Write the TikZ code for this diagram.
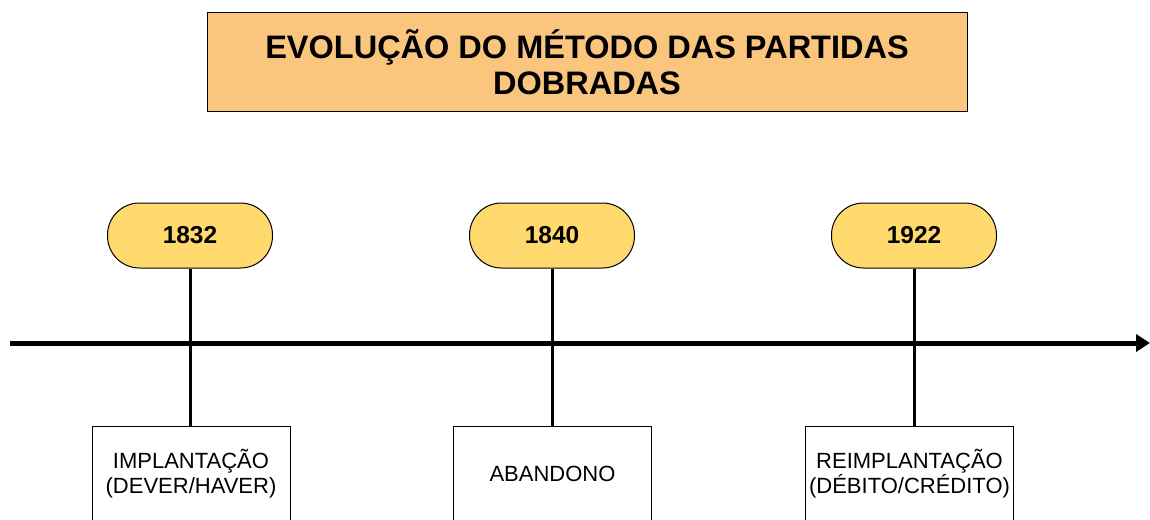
\documentclass[tikz,border=0pt]{standalone}
\usepackage{fontspec}
\setmainfont{Liberation Sans}
\usepackage{xcolor}
\usetikzlibrary{arrows.meta,positioning}
\definecolor{headorange}{RGB}{250,198,126}
\definecolor{yearyellow}{RGB}{255,217,110}

\begin{document}
\begin{tikzpicture}[x=1pt, y=-1pt,
  head/.style ={draw, fill=headorange, align=center, minimum width=760pt,
                minimum height=99pt, font=\fontsize{32.5}{36}\selectfont\bfseries},
  year/.style ={draw, fill=yearyellow, rounded corners=32pt, minimum width=165pt,
                minimum height=65pt, line width=1pt, font=\fontsize{24.5}{27}\selectfont\bfseries},
  event/.style={draw, fill=white, align=center, anchor=north, minimum width=198pt,
                minimum height=94pt, line width=1pt, font=\fontsize{22}{25}\selectfont},
  tick/.style ={line width=3pt}]
\useasboundingbox (0,0) rectangle (1150,519);
\node[head] (title) at (587,62) {EVOLUÇÃO DO MÉTODO DAS PARTIDAS\\DOBRADAS};
\coordinate (axstart) at (10,343);
\coordinate (axend)   at (1150,343);
\draw[line width=5pt, -{Triangle[length=14pt,width=17pt]}] (axstart) -- (axend);
\node[year]  (y1832) at (190,235.5) {1832};
\node[year]  (y1840) at (552,235.5) {1840};
\node[year]  (y1922) at (914,235.5) {1922};
\node[event] (impl)  at (191,426) {IMPLANTAÇÃO\\(DEVER/HAVER)};
\node[event] (aband) at (552.5,426) {ABANDONO};
\node[event, minimum width=205pt] (reimp) at (909.5,426) {REIMPLANTAÇÃO\\(DÉBITO/CRÉDITO)};
\draw[tick] (y1832.south) -- (y1832.south |- impl.north);
\draw[tick] (y1840.south) -- (y1840.south |- aband.north);
\draw[tick] (y1922.south) -- (y1922.south |- reimp.north);
\end{tikzpicture}
\end{document}
